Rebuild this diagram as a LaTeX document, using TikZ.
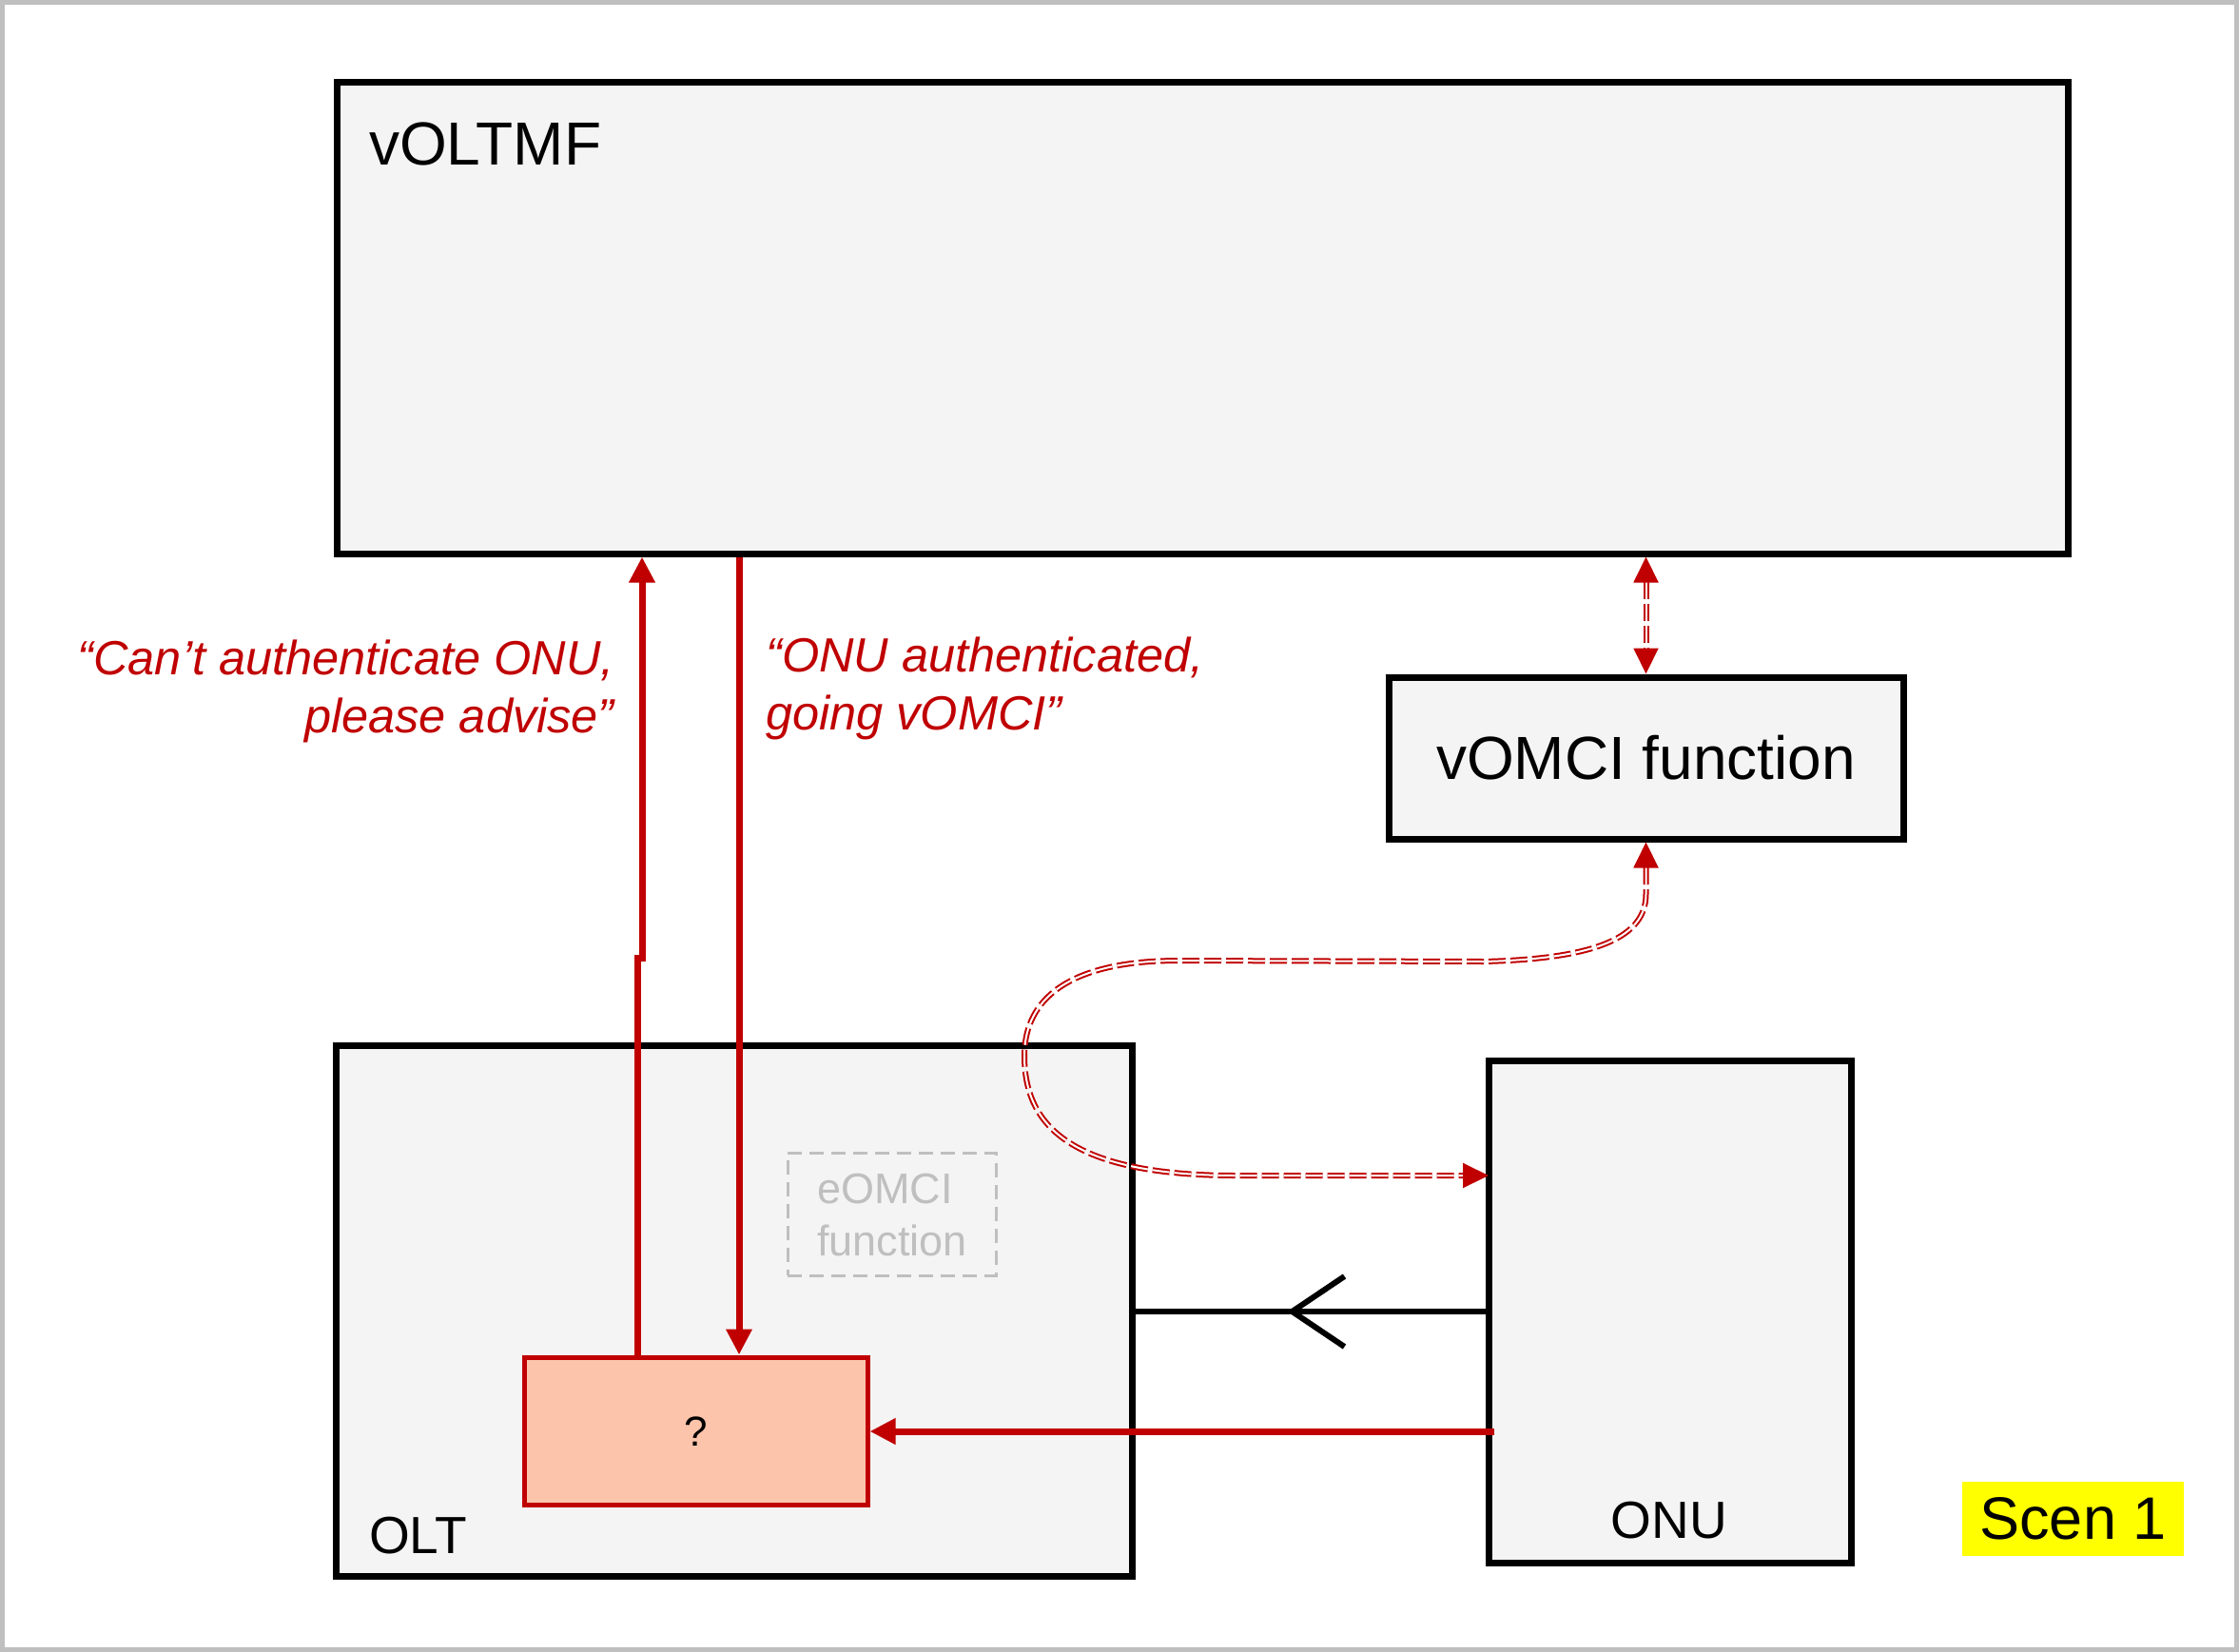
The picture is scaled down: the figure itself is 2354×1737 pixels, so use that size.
\documentclass[tikz,border=0pt]{standalone}
\usepackage{fontspec}
\setmainfont{Liberation Sans}
\usetikzlibrary{arrows.meta,decorations.markings}
\definecolor{dred}{HTML}{C00000}
\definecolor{boxgray}{HTML}{F4F4F4}
\definecolor{salmonfill}{HTML}{FBC4AB}
\definecolor{framegray}{HTML}{BFBFBF}
\definecolor{ghost}{HTML}{BFBFBF}
\definecolor{scenyellow}{HTML}{FFFF00}
\begin{document}
\begin{tikzpicture}[x=1pt,y=-1pt,
  blackbox/.style={draw=black, line width=7pt, fill=boxgray, rectangle, inner sep=0pt},
  redbox/.style={draw=dred, line width=5pt, fill=salmonfill, rectangle, inner sep=0pt},
  ghostbox/.style={draw=ghost, line width=3pt, dash pattern=on 15pt off 8pt, rectangle, inner sep=0pt},
  redflow/.style={draw=dred, line width=7pt, -{Triangle[length=27pt,width=26pt]}},
  vlink/.style={draw=dred, line width=2pt, double=white, double distance=2pt,
     dash pattern=on 18pt off 5pt,
     {Triangle[length=27pt,width=26pt]}-{Triangle[length=27pt,width=26pt]}},
  redlabel/.style={text=dred, font=\fontsize{50.5}{61}\selectfont\itshape, inner sep=0pt},
  boxlabel/.style={inner sep=0pt, font=\fontsize{55}{65}\selectfont},
]
\useasboundingbox (0,0) rectangle (2354,1737);
\draw[framegray, line width=5pt] (2.5,2.5) rectangle (2351.5,1734.5);

% boxes
\node[blackbox, minimum width=1820pt, minimum height=495pt] (voltmf) at (1264,334.5) {};
\node[anchor=base west, inner sep=0pt, font=\fontsize{64}{75}\selectfont] (voltmflbl) at (388,173) {vOLTMF};

\node[blackbox, minimum width=541pt, minimum height=170pt, font=\fontsize{64}{74}\selectfont] (vomci) at (1730.5,797) {vOMCI function};

\node[blackbox, minimum width=837pt, minimum height=558pt] (olt) at (772,1378) {};
\node[boxlabel, anchor=base west] (oltlbl) at (388,1633) {OLT};

\node[blackbox, minimum width=381pt, minimum height=528pt] (onu) at (1755.5,1379) {};
\node[boxlabel, anchor=base] (onulbl) at (1755,1617) {ONU};

\node[ghostbox, minimum width=219pt, minimum height=129pt] (eomci) at (937.5,1276.5) {};
\node[anchor=base west, inner sep=0pt, text=ghost, font=\fontsize{45}{55}\selectfont, align=left] (eomcilbl) at (859,1320) {eOMCI\\function};

\node[redbox, minimum width=361pt, minimum height=155pt] (q) at (731.5,1504.5) {};
\node[anchor=base, inner sep=0pt, font=\fontsize{44}{52}\selectfont] (qlbl) at (732,1520) {?};

% scenario tag
\node[fill=scenyellow, minimum width=233pt, minimum height=78pt, inner sep=0pt, font=\fontsize{63}{74}\selectfont] (scen) at (2179.5,1597) {Scen 1};

% red flows
\coordinate (jogL) at (670,1007);
\coordinate (jogR) at (675,1007);
\coordinate (downx) at (777,0);
\coordinate (onuout) at (1571,1505);
\draw[redflow] (q.north -| jogL) -- (jogL) -- (jogR) -- (voltmf.south -| jogR);
\draw[redflow] (voltmf.south -| downx) -- (q.north -| downx);
\draw[redflow] (onuout) -- (q.east |- onuout);

% black link with open chevron
\coordinate (bl) at (0,1379);
\draw[line width=6pt, postaction={decorate, decoration={markings,
   mark=at position 0.567 with {\arrow{Straight Barb[length=55pt,width=74pt,line width=6pt]}}}}]
   (onu.west |- bl) -- (olt.east |- bl);

% vOMCI double dashed links
\draw[vlink] (voltmf.south -| vomci.north) -- (vomci.north);
\coordinate (onuin) at (1565,1236);
\draw[vlink] (vomci.south) -- (1730.5,940)
   .. controls (1730.5,985) and (1680,1008) .. (1560,1011)
   -- (1240,1010)
   .. controls (1110,1010) and (1077,1060) .. (1077,1110)
   .. controls (1077,1180) and (1120,1236) .. (1300,1236)
   -- (onuin);

% labels
\node[redlabel, anchor=base east, align=right] (lblup) at (646,770) {“Can’t authenticate ONU,\\please advise”};
\node[redlabel, anchor=base west, align=left] (lbldown) at (805,767) {“ONU authenticated,\\going vOMCI”};
\end{tikzpicture}
\end{document}
